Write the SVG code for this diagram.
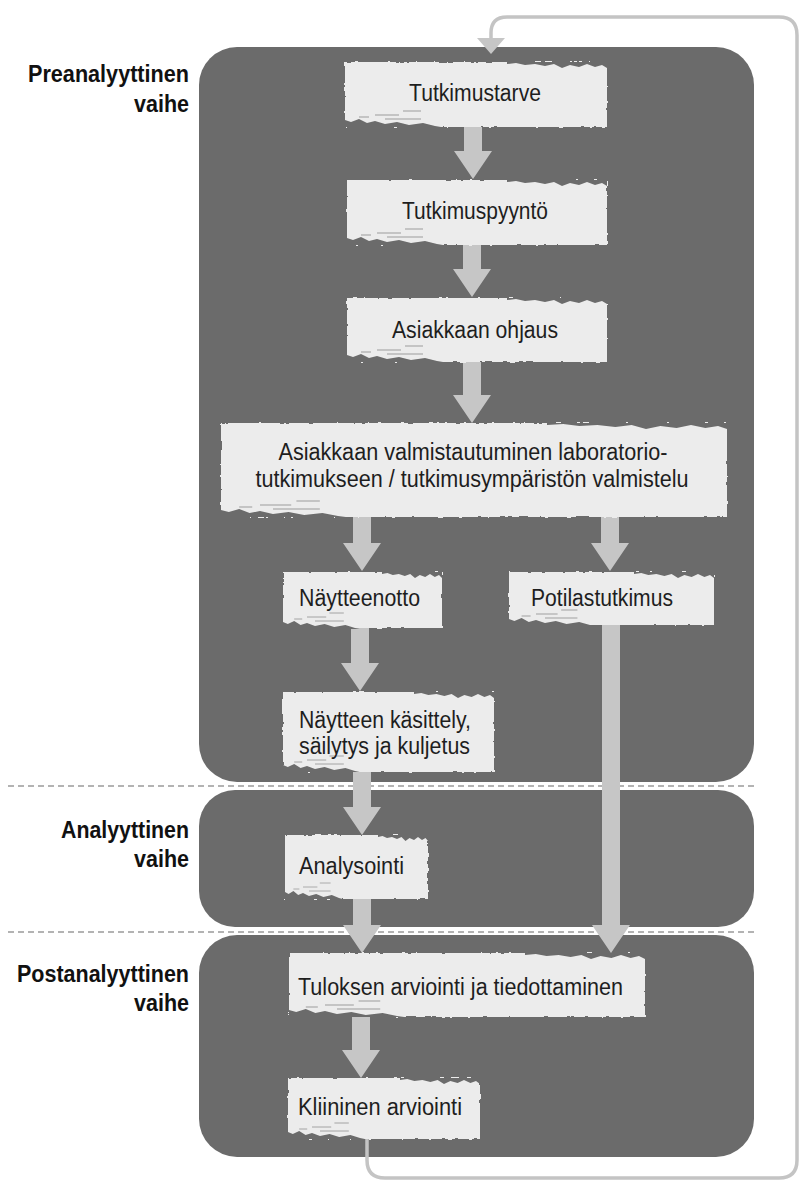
<svg xmlns="http://www.w3.org/2000/svg" xmlns:xlink="http://www.w3.org/1999/xlink" width="801" height="1181" viewBox="0 0 801 1181">
  <style>
    .panel { fill: #6b6b6b; }
    .box { fill: #ececec; filter: url(#rough); }
    .txt { font-family: "Liberation Sans", Arial, sans-serif; font-size: 23px; fill: #1e1e1e; }
    .mid { text-anchor: middle; }
    .lbl { font-family: "Liberation Sans", Arial, sans-serif; font-size: 23px; font-weight: bold; fill: #111; text-anchor: end; }
    .arrow { fill: #c6c6c6; }
    .loop { fill: none; stroke: #c4c4c4; stroke-width: 3.5; }
    .dash { stroke: #9a9a9a; stroke-width: 1.5; stroke-dasharray: 6 4; }
  </style>
  <defs>
    <filter id="rough" x="-5%" y="-15%" width="110%" height="130%">
      <feTurbulence type="fractalNoise" baseFrequency="0.15" numOctaves="2" seed="4"/>
      <feDisplacementMap in="SourceGraphic" scale="3" xChannelSelector="R" yChannelSelector="G"/>
    </filter>
    <!-- torn strip along the upper right edge of a card -->
    <polygon id="tear" fill="#6b6b6b" points="0,0 100,0 100,6 95,3 88,5 80,2 72,5 63,3 55,6 47,2 38,4 28,2 18,3 9,1 0,2"/>
    <!-- worn lower left corner of a card -->
    <g id="smudge">
      <polygon fill="#6b6b6b" points="0,10 0,3 6,5 14,2 22,6 30,4 40,7 52,5 64,8 78,6 90,9 96,10"/>
      <path d="M14,0 h10 M30,-2 h24 M40,2 h36 M58,-6 h18" stroke="#9c9c9c" stroke-width="1"/>
    </g>
  </defs>

  <rect width="801" height="1181" fill="#ffffff"/>

  <!-- phase panels -->
  <g id="panels">
    <rect class="panel" x="199" y="47" width="555" height="735" rx="38"/>
    <rect class="panel" x="199" y="790" width="555" height="137" rx="36"/>
    <rect class="panel" x="199" y="935" width="555" height="222" rx="38"/>
  </g>

  <!-- phase boundaries -->
  <g id="dividers">
    <line class="dash" x1="8" y1="786" x2="758" y2="786"/>
    <line class="dash" x1="8" y1="932" x2="758" y2="932"/>
  </g>

  <!-- phase labels -->
  <g id="phase-labels">
    <text class="lbl" x="189" y="82" textLength="161" lengthAdjust="spacingAndGlyphs">Preanalyyttinen</text>
    <text class="lbl" x="189" y="112" textLength="55" lengthAdjust="spacingAndGlyphs">vaihe</text>
    <text class="lbl" x="189" y="838" textLength="128" lengthAdjust="spacingAndGlyphs">Analyyttinen</text>
    <text class="lbl" x="189" y="867" textLength="55" lengthAdjust="spacingAndGlyphs">vaihe</text>
    <text class="lbl" x="189" y="982" textLength="172" lengthAdjust="spacingAndGlyphs">Postanalyyttinen</text>
    <text class="lbl" x="189" y="1011" textLength="55" lengthAdjust="spacingAndGlyphs">vaihe</text>
  </g>

  <!-- connectors -->
  <g id="connectors">
    <path class="loop" d="M367,1139 L367,1160 Q367,1178 385,1178 L779,1178 Q797,1178 797,1160 L797,35 Q797,17 779,17 L507,17 Q491,17 491,33 L491,40"/>
    <polygon class="arrow" points="477,38 505,38 491,54"/>
    <polygon class="arrow" points="464,127 482,127 482,151 492,151 473,179 454,151 464,151"/>
    <polygon class="arrow" points="463,245 481,245 481,269 491,269 472,297 453,269 463,269"/>
    <polygon class="arrow" points="463,362 481,362 481,395 491,395 472,423 453,395 463,395"/>
    <polygon class="arrow" points="353,517 371,517 371,543 381,543 362,571 343,543 353,543"/>
    <polygon class="arrow" points="601,517 619,517 619,543 629,543 610,571 591,543 601,543"/>
    <polygon class="arrow" points="351,628 369,628 369,663 379,663 360,691 341,663 351,663"/>
    <polygon class="arrow" points="353,772 371,772 371,807 381,807 362,835 343,807 353,807"/>
    <polygon class="arrow" points="353,899 371,899 371,925 381,925 362,953 343,925 353,925"/>
    <polygon class="arrow" points="602,625 620,625 620,925 630,925 611,953 592,925 602,925"/>
    <polygon class="arrow" points="352,1017 370,1017 370,1050 380,1050 361,1078 342,1050 352,1050"/>
  </g>

  <!-- process steps -->
  <g id="tutkimustarve">
    <rect class="box" x="345" y="62" width="262" height="65"/>
    <use href="#tear" transform="translate(507,62)"/>
    <use href="#smudge" transform="translate(345,117)"/>
    <text class="txt mid" x="475" y="101" textLength="132" lengthAdjust="spacingAndGlyphs">Tutkimustarve</text>
  </g>
  <g id="tutkimuspyynto">
    <rect class="box" x="347" y="180" width="260" height="65"/>
    <use href="#tear" transform="translate(507,180)"/>
    <use href="#smudge" transform="translate(347,235)"/>
    <text class="txt mid" x="475" y="219" textLength="146" lengthAdjust="spacingAndGlyphs">Tutkimuspyyntö</text>
  </g>
  <g id="asiakkaan-ohjaus">
    <rect class="box" x="347" y="298" width="260" height="64"/>
    <use href="#tear" transform="translate(507,298)"/>
    <use href="#smudge" transform="translate(347,352)"/>
    <text class="txt mid" x="475" y="338" textLength="166" lengthAdjust="spacingAndGlyphs">Asiakkaan ohjaus</text>
  </g>
  <g id="valmistautuminen">
    <rect class="box" x="221" y="423" width="506" height="94"/>
    <use href="#tear" transform="translate(547,423) scale(1.8,1)"/>
    <use href="#smudge" transform="translate(221,507) scale(1.3,1)"/>
    <text class="txt mid" x="473" y="460" textLength="389" lengthAdjust="spacingAndGlyphs">Asiakkaan valmistautuminen laboratorio-</text>
    <text class="txt mid" x="472" y="487" textLength="433" lengthAdjust="spacingAndGlyphs">tutkimukseen / tutkimusympäristön valmistelu</text>
  </g>
  <g id="naytteenotto">
    <rect class="box" x="283" y="572" width="159" height="56"/>
    <use href="#tear" transform="translate(382,572) scale(0.6,1)"/>
    <use href="#smudge" transform="translate(283,619) scale(0.8,1)"/>
    <text class="txt" x="299" y="606" textLength="121" lengthAdjust="spacingAndGlyphs">Näytteenotto</text>
  </g>
  <g id="potilastutkimus">
    <rect class="box" x="509" y="572" width="205" height="53"/>
    <use href="#tear" transform="translate(634,572) scale(0.8,1)"/>
    <use href="#smudge" transform="translate(509,616) scale(0.9,1)"/>
    <text class="txt" x="531" y="606" textLength="142" lengthAdjust="spacingAndGlyphs">Potilastutkimus</text>
  </g>
  <g id="naytteen-kasittely">
    <rect class="box" x="283" y="692" width="211" height="80"/>
    <use href="#tear" transform="translate(414,692) scale(0.8,1)"/>
    <use href="#smudge" transform="translate(283,762) scale(0.8,1)"/>
    <text class="txt" x="299" y="728" textLength="172" lengthAdjust="spacingAndGlyphs">Näytteen käsittely,</text>
    <text class="txt" x="299" y="754" textLength="171" lengthAdjust="spacingAndGlyphs">säilytys ja kuljetus</text>
  </g>
  <g id="analysointi">
    <rect class="box" x="285" y="835" width="143" height="64"/>
    <use href="#tear" transform="translate(378,835) scale(0.5,1)"/>
    <use href="#smudge" transform="translate(285,889) scale(0.6,1)"/>
    <text class="txt" x="299" y="874" textLength="105" lengthAdjust="spacingAndGlyphs">Analysointi</text>
  </g>
  <g id="tuloksen-arviointi">
    <rect class="box" x="289" y="953" width="356" height="64"/>
    <use href="#tear" transform="translate(525,953) scale(1.2,1)"/>
    <use href="#smudge" transform="translate(289,1007) scale(1.2,1)"/>
    <text class="txt" x="298" y="995" textLength="325" lengthAdjust="spacingAndGlyphs">Tuloksen arviointi ja tiedottaminen</text>
  </g>
  <g id="kliininen-arviointi">
    <rect class="box" x="288" y="1078" width="192" height="61"/>
    <use href="#tear" transform="translate(400,1078) scale(0.8,1)"/>
    <use href="#smudge" transform="translate(288,1129) scale(0.8,1)"/>
    <text class="txt" x="298" y="1115" textLength="164" lengthAdjust="spacingAndGlyphs">Kliininen arviointi</text>
  </g>
</svg>
